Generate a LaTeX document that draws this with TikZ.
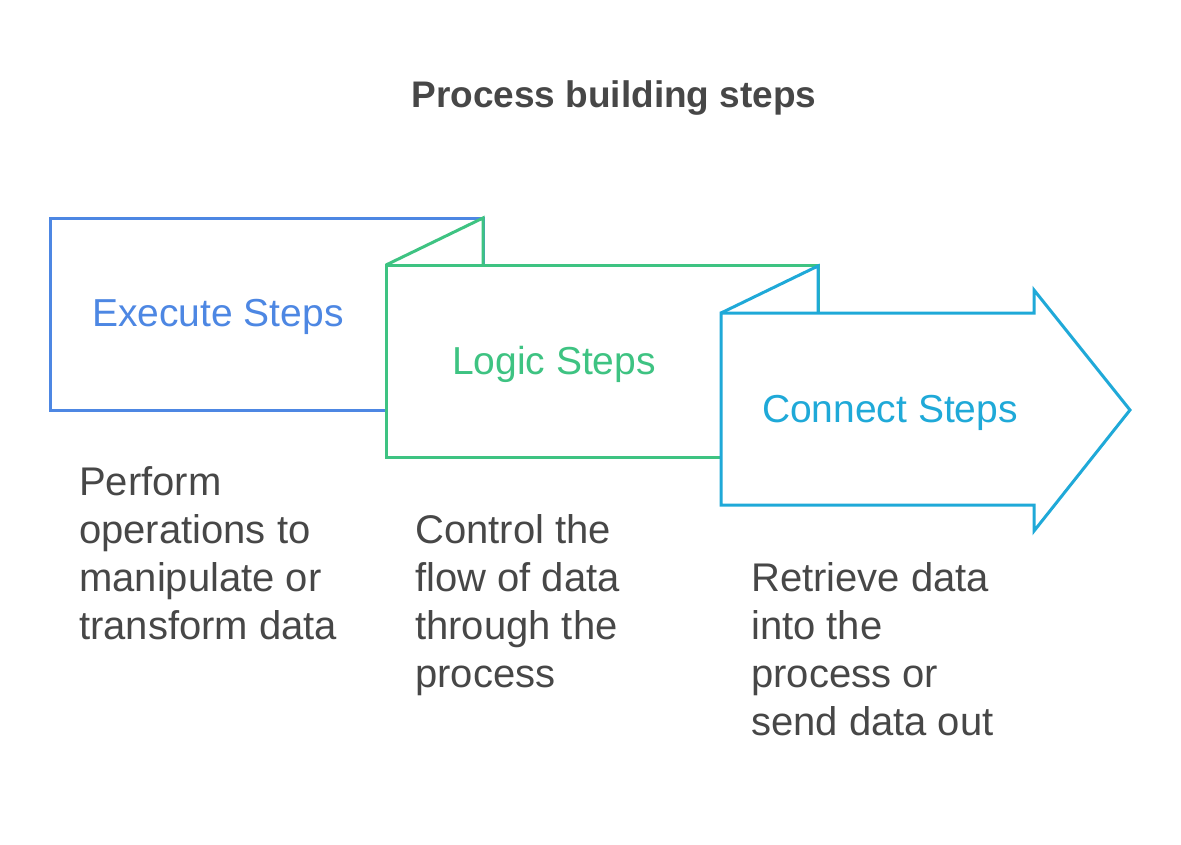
\documentclass[tikz,border=0pt]{standalone}
\usepackage{fontspec}
\setmainfont{Liberation Sans}
\definecolor{execblue}{HTML}{4D87E3}
\definecolor{logicgreen}{HTML}{3EC382}
\definecolor{connectcyan}{HTML}{1FA9D8}
\definecolor{notegray}{HTML}{474747}
\tikzset{
  stepline/.style={line width=3pt, fill=white},
  steplabel/.style={font=\fontsize{39}{48}\selectfont, anchor=base},
  stepnote/.style={font=\fontsize{40}{48}\selectfont, text=notegray, align=left, anchor=base west, inner sep=0pt},
}

\begin{document}
\begin{tikzpicture}[x=1pt,y=-1pt]
\useasboundingbox (0,0) rectangle (1181,844);
\node [font=\bfseries\fontsize{37}{44}\selectfont, text=notegray, anchor=base] (title) at (614,107) {Process building steps};
% execute box
\draw [stepline, draw=execblue] (50,218) -- (483,218) -- (483,410) -- (50,410) -- cycle;
\node [steplabel, text=execblue] (execlabel) at (218,326) {Execute Steps};
% logic box
\draw [stepline, draw=logicgreen] (386,265) -- (483,218) -- (483,265);
\draw [stepline, draw=logicgreen] (386,265) -- (818,265) -- (818,457) -- (386,457) -- cycle;
\node [steplabel, text=logicgreen] (logiclabel) at (554,374) {Logic Steps};
% connect arrow
\draw [stepline, draw=connectcyan] (721,313) -- (818,266) -- (818,313);
\draw [stepline, draw=connectcyan] (721,313) -- (1034,313) -- (1034,290) -- (1130,410) -- (1034,531) -- (1034,505) -- (721,505) -- cycle;
\node [steplabel, text=connectcyan] (connectlabel) at (890,422) {Connect Steps};
% notes (base = last line)
\node [stepnote] (execnote) at (79,639) {Perform\\operations to\\manipulate or\\transform data};
\node [stepnote] (logicnote) at (415,687) {Control the\\flow of data\\through the\\process};
\node [stepnote] (connectnote) at (751,735) {Retrieve data\\into the\\process or\\send data out};
\end{tikzpicture}
\end{document}
